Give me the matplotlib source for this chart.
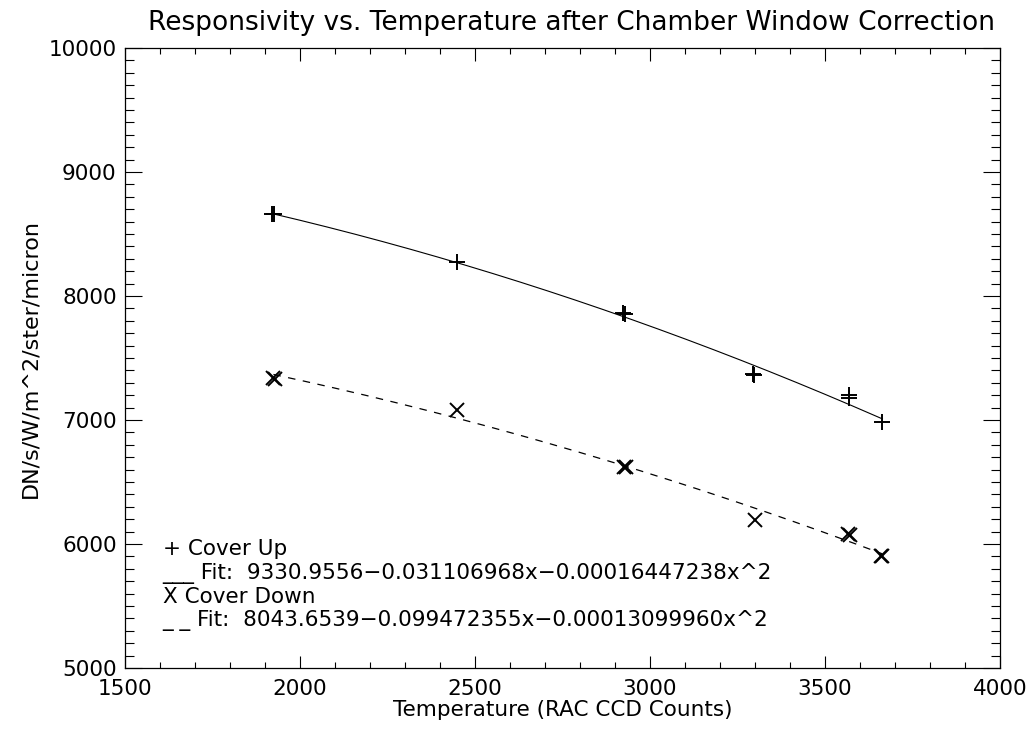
"""
Responsivity vs. temperature after chamber window correction.
Cover up / cover down measurements with their quadratic fits.
"""

import numpy as np
import matplotlib
matplotlib.use("Agg")
import matplotlib.pyplot as plt

# Cover up measurements (temperature in RAC CCD counts, responsivity)
up_temp = [1921, 1925, 2448, 2924, 2928, 3293, 3297, 3568, 3570, 3664]
up_resp = [8662, 8658, 8277, 7862, 7858, 7370, 7366, 7200, 7175, 6981]

# Cover down measurements
down_temp = [1924, 1928, 2449, 2927, 2931, 3300, 3567, 3571, 3660, 3664]
down_resp = [7338, 7334, 7081, 6625, 6621, 6194, 6080, 6076, 5905, 5901]

# Fit coefficients as printed in the legend (c0, c1, c2)
up_fit = [9330.9556, -0.031106968, -0.00016447238]
down_fit = [8043.6539, -0.099472355, -0.00013099960]

legend_lines = [
    "+ Cover Up",
    "___ Fit:  9330.9556\u22120.031106968x\u22120.00016447238x^2",
    "X Cover Down",
    "_ _ Fit:  8043.6539\u22120.099472355x\u22120.00013099960x^2",
]


def quad(coefs, x):
    return coefs[0] + coefs[1] * x + coefs[2] * x ** 2


def main():
    plt.rcParams["font.family"] = ["DejaVu Sans"]
    fig = plt.figure(figsize=(10.29, 7.31), dpi=100)
    ax = fig.add_axes([0.1215, 0.0862, 0.8503, 0.8481])

    # fitted curves over the measured range
    xu = np.linspace(min(up_temp), max(up_temp), 200)
    xd = np.linspace(min(down_temp), max(down_temp), 200)
    ax.plot(xu, quad(up_fit, xu), color="black", lw=0.8)
    ax.plot(xd, quad(down_fit, xd), color="black", lw=0.9, dashes=(6, 6))

    # data points
    ax.plot(up_temp, up_resp, ls="none", marker="+", ms=11, mew=1.4, color="black")
    ax.plot(down_temp, down_resp, ls="none", marker="x", ms=10.5, mew=1.4, color="black")

    ax.set_xlim(1500, 4000)
    ax.set_ylim(5000, 10000)
    ax.set_xticks(np.arange(1500, 4001, 500))
    ax.set_yticks(np.arange(5000, 10001, 1000))
    ax.set_xticks(np.arange(1500, 4001, 100), minor=True)
    ax.set_yticks(np.arange(5000, 10001, 100), minor=True)

    ax.tick_params(axis="x", which="major", direction="in", length=9, width=0.8,
                   top=True, labelsize=15.5, pad=8)
    ax.tick_params(axis="x", which="minor", direction="in", length=4.5, width=0.8, top=True)
    ax.tick_params(axis="y", which="major", direction="in", length=12.5, width=0.8,
                   right=True, labelsize=15.5, pad=6)
    ax.tick_params(axis="y", which="minor", direction="in", length=6.3, width=0.8, right=True)
    for sp in ax.spines.values():
        sp.set_linewidth(0.9)

    ax.set_title("Responsivity vs. Temperature after Chamber Window Correction",
                 fontsize=19, pad=13, x=0.51)
    ax.set_xlabel("Temperature (RAC CCD Counts)", fontsize=15.5, labelpad=1)
    ax.set_ylabel("DN/s/W/m^2/ster/micron", fontsize=16, labelpad=6)

    # text legend, IDL style
    ys = [0.192, 0.153, 0.1145, 0.0758]
    for text, y in zip(legend_lines, ys):
        ax.text(0.043, y, text, transform=ax.transAxes, fontsize=15.5, va="center")

    fig.savefig("out.png", dpi=100)


if __name__ == '__main__':
    main()
